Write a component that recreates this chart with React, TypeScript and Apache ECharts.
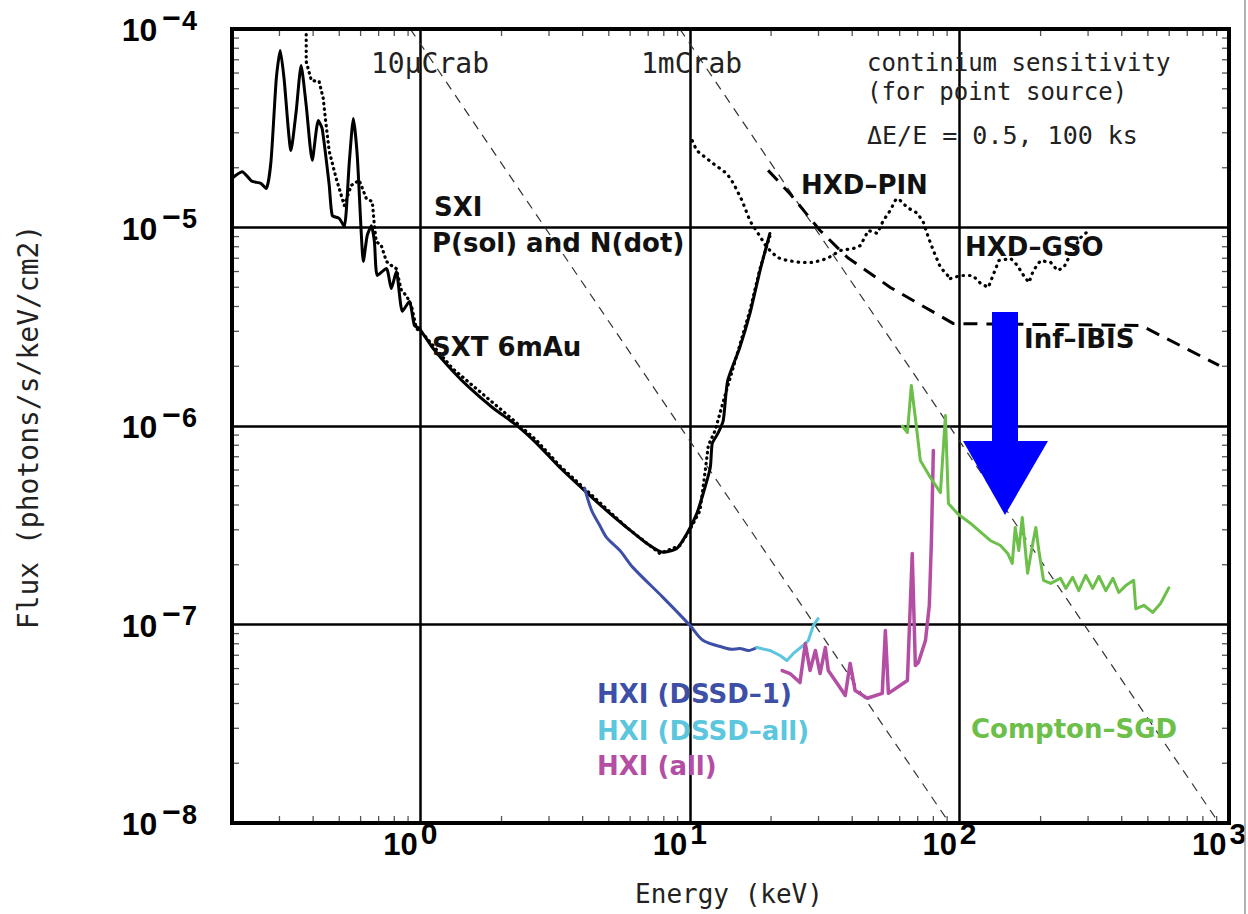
import React, { useEffect, useRef } from 'react';
import * as echarts from 'echarts';

// ---- axis ticks (powers of ten) ----
const xExponents = [0, 1, 2, 3];
const yExponents = [-8, -7, -6, -5, -4];
const xMin = 0.2;
const xMax = 1000;
const yMin = 1e-8;
const yMax = 1e-4;
const minorMantissas = [2, 3, 4, 5, 6, 7, 8, 9];

// ---- data: [energy keV, flux photons/s/keV/cm2] ----
const crab10u: [number, number][] = [[0.917, 1e-4], [91.7, 1e-8]];
const crab1m: [number, number][] = [[9.17, 1e-4], [917, 1e-8]];

const sxiSolid: [number, number][] = [
  [0.2, 1.77e-5], [0.218, 1.91e-5], [0.237, 1.71e-5], [0.256, 1.67e-5], [0.268, 1.57e-5],
  [0.279, 2.15e-5], [0.292, 5.63e-5], [0.302, 7.79e-5], [0.312, 5.63e-5], [0.331, 2.44e-5],
  [0.346, 3.84e-5], [0.361, 6.55e-5], [0.377, 4.12e-5], [0.397, 2.18e-5], [0.418, 3.46e-5],
  [0.432, 3.15e-5], [0.459, 1.63e-5], [0.471, 1.15e-5], [0.5, 1.11e-5], [0.522, 1.01e-5],
  [0.545, 2.15e-5], [0.564, 3.54e-5], [0.583, 2.31e-5], [0.604, 9.12e-6], [0.614, 6.75e-6],
  [0.635, 9.12e-6], [0.658, 1.02e-5], [0.675, 8.5e-6], [0.692, 5.73e-6], [0.748, 6.21e-6],
  [0.78, 4.93e-6], [0.814, 6.0e-6], [0.857, 3.78e-6], [0.91, 4.24e-6], [0.95, 3.21e-6],
  [0.99, 3.1e-6], [1.11, 2.48e-6], [1.315, 1.9e-6], [1.52, 1.56e-6], [1.85, 1.24e-6],
  [2.27, 1.01e-6], [2.7, 8.17e-7], [3.29, 6.18e-7], [4.14, 4.62e-7], [4.91, 3.75e-7],
  [5.83, 3.08e-7], [6.92, 2.56e-7], [7.94, 2.31e-7], [8.95, 2.42e-7], [9.75, 2.87e-7],
  [10.6, 3.62e-7], [11.2, 4.57e-7], [11.9, 6.18e-7], [12.1, 8.17e-7], [12.7, 9.17e-7],
  [13.3, 1.07e-6], [13.8, 1.69e-6], [15.3, 2.48e-6], [16.7, 3.69e-6], [18.2, 6.07e-6],
  [19.8, 9.33e-6],
];

const sxiDotted: [number, number][] = [
  [0.377, 1e-4], [0.377, 6.86e-5], [0.394, 5.5e-5], [0.421, 5.44e-5], [0.436, 4.47e-5],
  [0.444, 3.54e-5], [0.459, 2.42e-5], [0.487, 1.77e-5], [0.522, 1.29e-5], [0.554, 1.63e-5],
  [0.593, 1.73e-5], [0.63, 1.4e-5], [0.663, 1.35e-5], [0.675, 1.02e-5], [0.686, 8.5e-6],
  [0.716, 8.11e-6], [0.748, 6.75e-6], [0.78, 6.44e-6], [0.814, 6.21e-6], [0.85, 4.82e-6],
  [0.887, 4.54e-6], [0.926, 4.05e-6], [0.966, 3.1e-6], [1.035, 2.86e-6], [1.315, 1.95e-6],
  [1.81, 1.35e-6], [2.18, 1.09e-6], [2.7, 8.45e-7], [3.29, 6.3e-7], [4.14, 4.73e-7],
  [5.83, 3.08e-7], [7.73, 2.28e-7], [9.18, 2.5e-7], [9.97, 2.98e-7], [10.9, 3.75e-7],
  [11.4, 5.97e-7], [11.7, 7.98e-7], [12.4, 9.5e-7], [13.5, 1.43e-6], [15.1, 2.4e-6],
  [16.7, 3.82e-6], [18.2, 6.21e-6], [19.3, 8.11e-6], [19.8, 9.0e-6],
];

const hxdPin: [number, number][] = [
  [10.2, 2.74e-5], [10.6, 2.44e-5], [12.2, 2.1e-5], [13.7, 1.87e-5], [14.5, 1.67e-5],
  [15.6, 1.37e-5], [16.7, 1.08e-5], [17.9, 9.33e-6], [19.3, 7.93e-6], [21.1, 7.06e-6],
  [22.9, 6.82e-6], [25.6, 6.67e-6], [28.7, 6.67e-6], [32.3, 6.98e-6], [36.1, 7.66e-6],
  [40.4, 7.84e-6], [42.9, 8.11e-6], [45.9, 9.66e-6], [49.6, 9.33e-6], [52.1, 1.08e-5],
  [55.4, 1.22e-5], [57.8, 1.37e-5], [59.3, 1.4e-5], [64.1, 1.26e-5], [69.8, 1.18e-5],
  [73.5, 1.06e-5], [76.7, 8.91e-6], [80.0, 7.66e-6], [85.0, 6.3e-6], [92.6, 5.53e-6],
];

const hxdGso: [number, number][] = [
  [92.6, 5.53e-6], [101, 5.73e-6], [112, 5.73e-6], [120, 5.22e-6], [128, 4.99e-6],
  [134, 5.86e-6], [140, 6.82e-6], [155, 6.98e-6], [164, 6.44e-6], [173, 5.73e-6],
  [181, 5.28e-6], [188, 6.07e-6], [200, 6.82e-6], [218, 6.67e-6], [231, 6.07e-6],
  [244, 6.3e-6], [259, 7.4e-6], [282, 8.91e-6], [302, 9.66e-6],
];

const intIbis: [number, number][] = [
  [19.5, 1.94e-5], [23.5, 1.48e-5], [30.4, 9.66e-6], [38.4, 7.06e-6], [55.4, 4.99e-6],
  [95, 3.28e-6], [471, 3.21e-6], [918, 2.02e-6],
];

const hxiDssd1: [number, number][] = [
  [4.07, 4.84e-7], [4.32, 3.75e-7], [4.63, 3.15e-7], [4.91, 2.74e-7], [5.5, 2.36e-7],
  [6.14, 1.94e-7], [7.94, 1.37e-7], [10.0, 9.9e-8], [11.2, 8.3e-8], [13.3, 7.66e-8],
  [14.3, 7.5e-8], [15.3, 7.57e-8], [16.5, 7.4e-8], [17.7, 7.66e-8],
];

const hxiDssdAll: [number, number][] = [
  [17.7, 7.66e-8], [19.8, 7.4e-8], [21.6, 6.98e-8], [22.9, 6.59e-8], [24.2, 7.15e-8],
  [26.3, 7.84e-8], [27.5, 8.3e-8], [28.7, 9.88e-8], [29.9, 1.07e-7],
];

const hxiAll: [number, number][] = [
  [22.0, 5.86e-8], [23.5, 5.66e-8], [25.6, 5.1e-8], [26.8, 8.02e-8], [27.9, 5.86e-8],
  [29.2, 7.4e-8], [30.4, 5.66e-8], [31.8, 7.66e-8], [32.6, 5.86e-8], [35.2, 5.04e-8],
  [37.7, 4.39e-8], [39.3, 6.37e-8], [41.0, 4.65e-8], [45.5, 4.25e-8], [51.7, 4.5e-8],
  [53.1, 9.33e-8], [54.5, 4.5e-8], [64.1, 5.22e-8], [66.8, 2.28e-7], [68.6, 6.21e-8],
  [70.4, 6.44e-8], [74.8, 8.3e-8], [77.3, 1.25e-7], [78.7, 2.65e-7], [80.0, 7.53e-7],
];

const comptonSgd: [number, number][] = [
  [61.4, 1.0e-6], [64.1, 9.27e-7], [66.3, 1.6e-6], [68.6, 1.1e-6], [71.6, 6.7e-7],
  [78.0, 5.5e-7], [85.0, 4.62e-7], [88.7, 1.13e-6], [91.0, 4.07e-7], [98.3, 3.62e-7],
  [110, 3.23e-7], [130, 2.65e-7], [142, 2.5e-7], [151, 2.28e-7], [157, 2.03e-7],
  [161, 3.08e-7], [166, 2.36e-7], [171, 3.46e-7], [179, 1.81e-7], [187, 2.56e-7],
  [192, 3.08e-7], [197, 2.36e-7], [205, 1.67e-7], [218, 1.61e-7], [237, 1.71e-7],
  [248, 1.52e-7], [263, 1.73e-7], [277, 1.48e-7], [294, 1.77e-7], [312, 1.52e-7],
  [329, 1.75e-7], [349, 1.48e-7], [371, 1.71e-7], [390, 1.45e-7], [414, 1.57e-7],
  [443, 1.67e-7], [451, 1.2e-7], [483, 1.25e-7], [521, 1.15e-7], [558, 1.28e-7],
  [598, 1.53e-7],
];

const TICK_FONT = '"Liberation Sans", Arial, sans-serif';
const THIN_FONT = '"DejaVu Sans Mono", monospace';
const BOLD_FONT = '"DejaVu Sans", sans-serif';

function expOf(v: number, list: number[]): number | null {
  const l = Math.log10(v);
  for (const e of list) if (Math.abs(l - e) < 1e-6) return e;
  return null;
}

// minor tick positions (2..9 x each decade) inside axis range
function minorValues(lo: number, hi: number, exps: number[]): number[] {
  const out: number[] = [];
  const all = [exps[0] - 1, ...exps];
  for (const e of all) for (const m of minorMantissas) {
    const v = m * Math.pow(10, e);
    if (v > lo * 1.0001 && v < hi * 0.9999) out.push(v);
  }
  return out;
}

function lineSeries(name: string, data: [number, number][], color: string, width: number, type: any, cap: string = 'butt', z = 3, smooth: number | boolean = false) {
  return {
    type: 'line',
    name,
    data,
    showSymbol: false,
    symbol: 'none',
    silent: true,
    clip: true,
    smooth,
    z,
    lineStyle: { color, width, type, cap, join: 'round' },
  };
}

function thinText(text: string, x: number, y: number, size: number, extra: any = {}) {
  return {
    type: 'text',
    x,
    y,
    z: 50,
    ...extra,
    style: {
      text,
      font: `${size}px ${THIN_FONT}`,
      fill: '#222',
      align: extra.align || 'left',
      verticalAlign: 'middle',
      textAlign: extra.align || 'left',
      textVerticalAlign: 'middle',
    },
  };
}

function boldText(text: string, x: number, y: number, color: string, size = 26) {
  return {
    type: 'text',
    x,
    y,
    z: 50,
    style: {
      text,
      font: `bold ${size}px ${BOLD_FONT}`,
      fill: color,
      align: 'left',
      verticalAlign: 'middle',
      textAlign: 'left',
      textVerticalAlign: 'middle',
    },
  };
}

export default function App() {
  const ref = useRef<HTMLDivElement>(null);
  useEffect(() => {
    if (!ref.current) return;
    const chart = echarts.init(ref.current, null, { renderer: 'svg' });
    const baseTok = { fontFamily: TICK_FONT, fontWeight: 'bold', fontSize: 31, lineHeight: 34, verticalAlign: 'bottom', color: '#000' };
    const tickStyle = { stroke: '#555', lineWidth: 1.3 };
    const TL = 5;
    const xMinorData = minorValues(xMin, xMax, xExponents).map((v) => [v, yMin]);
    const yMinorData = minorValues(yMin, yMax, yExponents).map((v) => [xMin, v]);
    const option: any = {
      animation: false,
      backgroundColor: '#fff',
      grid: {
        left: 232, top: 29, right: 19, bottom: 91,
        containLabel: false, outerBoundsMode: 'none',
        show: true, borderColor: '#000', borderWidth: 4, backgroundColor: 'transparent', z: 10,
      },
      xAxis: {
        type: 'log',
        logBase: 10,
        min: xMin,
        max: xMax,
        axisLine: { show: false },
        axisTick: { show: false },
        splitLine: { show: true, lineStyle: { color: '#000', width: 2.5 } },
        axisLabel: {
          margin: 3,
          formatter: (v: number) => {
            const e = expOf(v, xExponents);
            return e === null ? '' : `{b|10}{s|${e}}`;
          },
          rich: {
            b: baseTok,
            s: { ...baseTok, fontSize: 30, padding: [0, 20, 12, 3] },
          },
        },
      },
      yAxis: {
        type: 'log',
        logBase: 10,
        min: yMin,
        max: yMax,
        axisLine: { show: false },
        axisTick: { show: false },
        splitLine: { show: true, lineStyle: { color: '#000', width: 2.5 } },
        axisLabel: {
          margin: 35,
          formatter: (v: number) => {
            const e = expOf(v, yExponents);
            return e === null ? '' : `{b|10}{m|\u2212}{s|${Math.abs(e)}}`;
          },
          rich: {
            b: { ...baseTok, fontSize: 32 },
            m: { ...baseTok, fontSize: 32, padding: [0, 0, 12, 5] },
            s: { ...baseTok, fontSize: 27, padding: [0, 0, 12, 1] },
          },
        },
      },
      series: [
        {
          type: 'custom',
          name: 'x minor ticks',
          silent: true,
          z: 20,
          clip: false,
          data: xMinorData,
          renderItem: (params: any, api: any) => {
            const v = api.value(0);
            const b = api.coord([v, yMin]);
            const t = api.coord([v, yMax]);
            return {
              type: 'group',
              children: [
                { type: 'line', shape: { x1: b[0], y1: b[1] - 2, x2: b[0], y2: b[1] - 2 - TL }, style: tickStyle },
                { type: 'line', shape: { x1: t[0], y1: t[1] + 2, x2: t[0], y2: t[1] + 2 + TL }, style: tickStyle },
              ],
            };
          },
        },
        {
          type: 'custom',
          name: 'y minor ticks',
          silent: true,
          z: 20,
          clip: false,
          data: yMinorData,
          renderItem: (params: any, api: any) => {
            const v = api.value(1);
            const l = api.coord([xMin, v]);
            const r = api.coord([xMax, v]);
            return {
              type: 'group',
              children: [
                { type: 'line', shape: { x1: l[0] + 2, y1: l[1], x2: l[0] + 2 + TL, y2: l[1] }, style: tickStyle },
                { type: 'line', shape: { x1: r[0] - 2, y1: r[1], x2: r[0] - 2 - TL, y2: r[1] }, style: tickStyle },
              ],
            };
          },
        },
        lineSeries('10uCrab', crab10u, '#333', 1.2, [9, 7]),
        lineSeries('1mCrab', crab1m, '#333', 1.2, [9, 7]),
        lineSeries('Int-IBIS', intIbis, '#000', 3, [14, 9]),
        lineSeries('HXD-PIN', hxdPin, '#000', 3.2, [0.5, 6], 'round'),
        lineSeries('HXD-GSO', hxdGso, '#000', 3.2, [0.5, 6], 'round'),
        lineSeries('SXI dot', sxiDotted, '#000', 3.2, [0.5, 5], 'round'),
        lineSeries('SXI sol', sxiSolid, '#000', 3, 'solid', 'round', 4, 0.2),
        lineSeries('HXI DSSD-1', hxiDssd1, '#3d4fa6', 3, 'solid', 'round', 5, 0.3),
        lineSeries('HXI DSSD-all', hxiDssdAll, '#5bc6de', 3, 'solid', 'round', 5),
        lineSeries('HXI all', hxiAll, '#b34ea4', 3.5, 'solid', 'round', 5),
        lineSeries('Compton-SGD', comptonSgd, '#6cbf48', 3, 'solid', 'round', 5),
      ],
      graphic: [
        thinText('10\u03bcCrab', 371, 63, 28),
        thinText('1mCrab', 641, 63, 28),
        thinText('continium sensitivity', 867, 63, 24),
        thinText('(for point source)', 867, 92, 24),
        thinText('\u0394E/E = 0.5, 100 ks', 867, 135, 25),
        boldText('SXI', 434, 207, '#111'),
        boldText('P(sol) and N(dot)', 432, 243, '#111'),
        boldText('SXT 6mAu', 432, 347, '#111'),
        boldText('HXD\u2013PIN', 801, 185, '#111'),
        boldText('HXD\u2013GSO', 965, 247, '#111'),
        boldText('Inf\u2013IBIS', 1024, 339, '#111'),
        boldText('HXI (DSSD\u20131)', 597, 694, '#3d4fa6'),
        boldText('HXI (DSSD\u2013all)', 597, 731, '#5bc6de'),
        boldText('HXI (all)', 597, 766, '#b34ea4'),
        boldText('Compton\u2013SGD', 971, 729, '#6cbf48'),
        thinText('Energy (keV)', 729, 894, 26, { align: 'center' }),
        {
          type: 'text',
          x: 28,
          y: 427,
          rotation: Math.PI / 2,
          z: 50,
          style: {
            text: 'Flux (photons/s/keV/cm2)',
            font: `28px ${THIN_FONT}`,
            fill: '#222',
            align: 'center',
            verticalAlign: 'middle',
            textAlign: 'center',
            textVerticalAlign: 'middle',
          },
        },
        {
          type: 'group',
          z: 100,
          children: [
            { type: 'rect', z: 100, shape: { x: 992, y: 312, width: 26, height: 131 }, style: { fill: '#0000ff' } },
            { type: 'polygon', z: 100, shape: { points: [[963, 441], [1048, 441], [1005, 515]] }, style: { fill: '#0000ff' } },
          ],
        },
        { type: 'line', z: 100, shape: { x1: 1245, y1: 0, x2: 1245, y2: 914 }, style: { stroke: '#999', lineWidth: 1.5 } },
      ],
    };
    chart.setOption(option);
    return () => chart.dispose();
  }, []);
  return <div ref={ref} style={{ position: 'absolute', left: 0, top: 0, width: 1248, height: 914 }} />;
}
